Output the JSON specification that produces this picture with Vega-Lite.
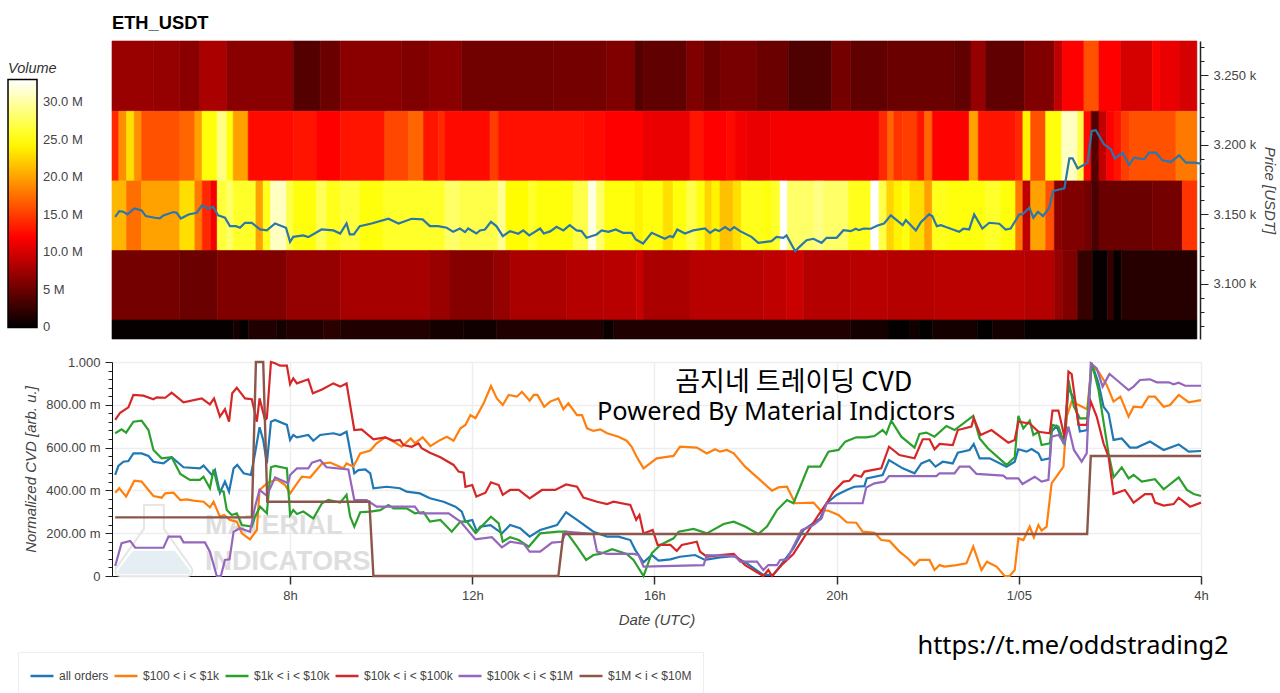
{
"$schema":"https://vega.github.io/schema/vega-lite/v6.json",
"background":"white",
"padding":{"left":8,"top":14,"right":4,"bottom":0},
"config":{"font":"Liberation Sans","view":{"stroke":null}},
"datasets":{
"heat":[
{"a":4.09,"b":5.0,"p":3224,"q":3274.5,"v":7.2},{"a":5.0,"b":5.58,"p":3224,"q":3274.5,"v":7},{"a":5.58,"b":6.02,"p":3224,"q":3274.5,"v":6.5},{"a":6.02,"b":6.61,"p":3224,"q":3274.5,"v":8},{"a":6.61,"b":8.07,"p":3224,"q":3274.5,"v":6.5},{"a":8.07,"b":8.66,"p":3224,"q":3274.5,"v":4},{"a":8.66,"b":9.1,"p":3224,"q":3274.5,"v":5},{"a":9.1,"b":10.45,"p":3224,"q":3274.5,"v":6.5},{"a":10.45,"b":11.07,"p":3224,"q":3274.5,"v":6},{"a":11.07,"b":11.77,"p":3224,"q":3274.5,"v":6.5},{"a":11.77,"b":13.78,"p":3224,"q":3274.5,"v":5.3},{"a":13.78,"b":14.95,"p":3224,"q":3274.5,"v":5.5},{"a":14.95,"b":15.57,"p":3224,"q":3274.5,"v":6},{"a":15.57,"b":15.75,"p":3224,"q":3274.5,"v":4},{"a":15.75,"b":16.71,"p":3224,"q":3274.5,"v":4.5},{"a":16.71,"b":17.07,"p":3224,"q":3274.5,"v":6},{"a":17.07,"b":17.44,"p":3224,"q":3274.5,"v":5},{"a":17.44,"b":18.24,"p":3224,"q":3274.5,"v":5.7},{"a":18.24,"b":18.94,"p":3224,"q":3274.5,"v":5},{"a":18.94,"b":19.89,"p":3224,"q":3274.5,"v":3.7},{"a":19.89,"b":20.31,"p":3224,"q":3274.5,"v":5.5},{"a":20.31,"b":21.12,"p":3224,"q":3274.5,"v":4.5},{"a":21.12,"b":22.58,"p":3224,"q":3274.5,"v":5},{"a":22.58,"b":22.95,"p":3224,"q":3274.5,"v":4.5},{"a":22.95,"b":23.27,"p":3224,"q":3274.5,"v":7},{"a":23.27,"b":24.12,"p":3224,"q":3274.5,"v":4.5},{"a":24.12,"b":24.78,"p":3224,"q":3274.5,"v":6},{"a":24.78,"b":24.96,"p":3224,"q":3274.5,"v":9},{"a":24.96,"b":25.43,"p":3224,"q":3274.5,"v":12},{"a":25.43,"b":25.76,"p":3224,"q":3274.5,"v":16},{"a":25.76,"b":26.24,"p":3224,"q":3274.5,"v":12},{"a":26.24,"b":26.93,"p":3224,"q":3274.5,"v":10},{"a":26.93,"b":27.08,"p":3224,"q":3274.5,"v":12},{"a":27.08,"b":27.52,"p":3224,"q":3274.5,"v":11},{"a":27.52,"b":27.91,"p":3224,"q":3274.5,"v":10},
{"a":4.09,"b":4.24,"p":3174,"q":3224,"v":14},{"a":4.24,"b":4.41,"p":3174,"q":3224,"v":19},{"a":4.41,"b":4.58,"p":3174,"q":3224,"v":23},{"a":4.58,"b":4.74,"p":3174,"q":3224,"v":19},{"a":4.74,"b":5.58,"p":3174,"q":3224,"v":16},{"a":5.58,"b":5.91,"p":3174,"q":3224,"v":17},{"a":5.91,"b":6.07,"p":3174,"q":3224,"v":20},{"a":6.07,"b":6.4,"p":3174,"q":3224,"v":25},{"a":6.4,"b":6.61,"p":3174,"q":3224,"v":29},{"a":6.61,"b":6.75,"p":3174,"q":3224,"v":25},{"a":6.75,"b":7.08,"p":3174,"q":3224,"v":20},{"a":7.08,"b":8.07,"p":3174,"q":3224,"v":12.5},{"a":8.07,"b":8.58,"p":3174,"q":3224,"v":13},{"a":8.58,"b":9.1,"p":3174,"q":3224,"v":12},{"a":9.1,"b":10.08,"p":3174,"q":3224,"v":13},{"a":10.08,"b":10.6,"p":3174,"q":3224,"v":15.5},{"a":10.6,"b":10.93,"p":3174,"q":3224,"v":17},{"a":10.93,"b":11.25,"p":3174,"q":3224,"v":13},{"a":11.25,"b":11.4,"p":3174,"q":3224,"v":14},{"a":11.4,"b":12.39,"p":3174,"q":3224,"v":12.5},{"a":12.39,"b":12.57,"p":3174,"q":3224,"v":15},{"a":12.57,"b":14.44,"p":3174,"q":3224,"v":12.8},{"a":14.44,"b":14.91,"p":3174,"q":3224,"v":12.5},{"a":14.91,"b":15.75,"p":3174,"q":3224,"v":12},{"a":15.75,"b":16.78,"p":3174,"q":3224,"v":11},{"a":16.78,"b":17.07,"p":3174,"q":3224,"v":13},{"a":17.07,"b":17.58,"p":3174,"q":3224,"v":12},{"a":17.58,"b":17.77,"p":3174,"q":3224,"v":12.5},{"a":17.77,"b":18.02,"p":3174,"q":3224,"v":11.5},{"a":18.02,"b":18.54,"p":3174,"q":3224,"v":11},{"a":18.54,"b":20.93,"p":3174,"q":3224,"v":11.5},{"a":20.93,"b":21.12,"p":3174,"q":3224,"v":14},{"a":21.12,"b":21.26,"p":3174,"q":3224,"v":17},{"a":21.26,"b":21.44,"p":3174,"q":3224,"v":14.5},{"a":21.44,"b":21.77,"p":3174,"q":3224,"v":15},{"a":21.77,"b":21.93,"p":3174,"q":3224,"v":13},{"a":21.93,"b":22.1,"p":3174,"q":3224,"v":17},{"a":22.1,"b":22.91,"p":3174,"q":3224,"v":12},{"a":22.91,"b":23.11,"p":3174,"q":3224,"v":20},{"a":23.11,"b":23.93,"p":3174,"q":3224,"v":13},{"a":23.93,"b":24.09,"p":3174,"q":3224,"v":14},{"a":24.09,"b":24.26,"p":3174,"q":3224,"v":24},{"a":24.26,"b":24.59,"p":3174,"q":3224,"v":16},{"a":24.59,"b":24.94,"p":3174,"q":3224,"v":25},{"a":24.94,"b":25.29,"p":3174,"q":3224,"v":31},{"a":25.29,"b":25.43,"p":3174,"q":3224,"v":27},{"a":25.43,"b":25.59,"p":3174,"q":3224,"v":12.5},{"a":25.59,"b":25.76,"p":3174,"q":3224,"v":4},{"a":25.76,"b":25.93,"p":3174,"q":3224,"v":9},{"a":25.93,"b":26.09,"p":3174,"q":3224,"v":12},{"a":26.09,"b":26.25,"p":3174,"q":3224,"v":13},{"a":26.25,"b":26.42,"p":3174,"q":3224,"v":15},{"a":26.42,"b":27.45,"p":3174,"q":3224,"v":16},{"a":27.45,"b":27.91,"p":3174,"q":3224,"v":18},
{"a":4.09,"b":4.41,"p":3124,"q":3174,"v":21},{"a":4.41,"b":4.74,"p":3124,"q":3174,"v":17.5},{"a":4.74,"b":5.58,"p":3124,"q":3174,"v":20},{"a":5.58,"b":5.91,"p":3124,"q":3174,"v":23},{"a":5.91,"b":6.07,"p":3124,"q":3174,"v":18},{"a":6.07,"b":6.26,"p":3124,"q":3174,"v":14},{"a":6.26,"b":6.4,"p":3124,"q":3174,"v":11.5},{"a":6.4,"b":6.61,"p":3124,"q":3174,"v":26.5},{"a":6.61,"b":6.75,"p":3124,"q":3174,"v":28},{"a":6.75,"b":7.25,"p":3124,"q":3174,"v":26},{"a":7.25,"b":7.41,"p":3124,"q":3174,"v":20},{"a":7.41,"b":7.57,"p":3124,"q":3174,"v":25.5},{"a":7.57,"b":7.92,"p":3124,"q":3174,"v":31},{"a":7.92,"b":8.07,"p":3124,"q":3174,"v":27},{"a":8.07,"b":8.58,"p":3124,"q":3174,"v":25},{"a":8.58,"b":8.8,"p":3124,"q":3174,"v":27.5},{"a":8.8,"b":9.1,"p":3124,"q":3174,"v":25.5},{"a":9.1,"b":9.53,"p":3124,"q":3174,"v":26.5},{"a":9.53,"b":10.05,"p":3124,"q":3174,"v":25},{"a":10.05,"b":11.4,"p":3124,"q":3174,"v":26},{"a":11.4,"b":11.73,"p":3124,"q":3174,"v":28},{"a":11.73,"b":12.57,"p":3124,"q":3174,"v":27},{"a":12.57,"b":12.74,"p":3124,"q":3174,"v":29.5},{"a":12.74,"b":13.23,"p":3124,"q":3174,"v":24.5},{"a":13.23,"b":13.41,"p":3124,"q":3174,"v":26},{"a":13.41,"b":14.22,"p":3124,"q":3174,"v":25},{"a":14.22,"b":14.55,"p":3124,"q":3174,"v":27},{"a":14.55,"b":14.73,"p":3124,"q":3174,"v":32},{"a":14.73,"b":14.91,"p":3124,"q":3174,"v":28},{"a":14.91,"b":15.57,"p":3124,"q":3174,"v":25},{"a":15.57,"b":15.75,"p":3124,"q":3174,"v":24},{"a":15.75,"b":16.19,"p":3124,"q":3174,"v":25},{"a":16.19,"b":16.41,"p":3124,"q":3174,"v":23},{"a":16.41,"b":16.71,"p":3124,"q":3174,"v":25},{"a":16.71,"b":16.93,"p":3124,"q":3174,"v":27},{"a":16.93,"b":17.11,"p":3124,"q":3174,"v":25},{"a":17.11,"b":17.26,"p":3124,"q":3174,"v":22.5},{"a":17.26,"b":17.44,"p":3124,"q":3174,"v":24},{"a":17.44,"b":17.73,"p":3124,"q":3174,"v":21.5},{"a":17.73,"b":17.91,"p":3124,"q":3174,"v":23},{"a":17.91,"b":18.39,"p":3124,"q":3174,"v":25.5},{"a":18.39,"b":18.57,"p":3124,"q":3174,"v":25},{"a":18.57,"b":18.76,"p":3124,"q":3174,"v":26},{"a":18.76,"b":18.92,"p":3124,"q":3174,"v":33},{"a":18.92,"b":19.52,"p":3124,"q":3174,"v":28},{"a":19.52,"b":19.71,"p":3124,"q":3174,"v":29},{"a":19.71,"b":20.26,"p":3124,"q":3174,"v":28},{"a":20.26,"b":20.75,"p":3124,"q":3174,"v":25.5},{"a":20.75,"b":20.93,"p":3124,"q":3174,"v":33},{"a":20.93,"b":21.1,"p":3124,"q":3174,"v":27},{"a":21.1,"b":21.26,"p":3124,"q":3174,"v":22.5},{"a":21.26,"b":21.44,"p":3124,"q":3174,"v":24},{"a":21.44,"b":21.61,"p":3124,"q":3174,"v":25},{"a":21.61,"b":21.93,"p":3124,"q":3174,"v":23},{"a":21.93,"b":22.1,"p":3124,"q":3174,"v":20},{"a":22.1,"b":22.43,"p":3124,"q":3174,"v":25.5},{"a":22.43,"b":23.27,"p":3124,"q":3174,"v":25},{"a":23.27,"b":23.6,"p":3124,"q":3174,"v":26},{"a":23.6,"b":23.93,"p":3124,"q":3174,"v":25},{"a":23.93,"b":24.09,"p":3124,"q":3174,"v":18},{"a":24.09,"b":24.26,"p":3124,"q":3174,"v":9},{"a":24.26,"b":24.59,"p":3124,"q":3174,"v":20},{"a":24.59,"b":24.78,"p":3124,"q":3174,"v":16},{"a":24.78,"b":24.94,"p":3124,"q":3174,"v":6.5},{"a":24.94,"b":25.43,"p":3124,"q":3174,"v":6},{"a":25.43,"b":25.59,"p":3124,"q":3174,"v":5.5},{"a":25.59,"b":25.76,"p":3124,"q":3174,"v":3.5},{"a":25.76,"b":26.93,"p":3124,"q":3174,"v":5},{"a":26.93,"b":27.59,"p":3124,"q":3174,"v":5.5},{"a":27.59,"b":27.91,"p":3124,"q":3174,"v":14.5},
{"a":4.09,"b":5.58,"p":3074,"q":3124,"v":5.5},{"a":5.58,"b":6.4,"p":3074,"q":3124,"v":5},{"a":6.4,"b":7.92,"p":3074,"q":3124,"v":6},{"a":7.92,"b":9.1,"p":3074,"q":3124,"v":7},{"a":9.1,"b":11.07,"p":3074,"q":3124,"v":7.8},{"a":11.07,"b":11.51,"p":3074,"q":3124,"v":7.2},{"a":11.51,"b":12.46,"p":3074,"q":3124,"v":6.3},{"a":12.46,"b":12.83,"p":3074,"q":3124,"v":7},{"a":12.83,"b":14.07,"p":3074,"q":3124,"v":8},{"a":14.07,"b":14.88,"p":3074,"q":3124,"v":8.5},{"a":14.88,"b":15.61,"p":3074,"q":3124,"v":8.7},{"a":15.61,"b":15.75,"p":3074,"q":3124,"v":9.5},{"a":15.75,"b":16.78,"p":3074,"q":3124,"v":8},{"a":16.78,"b":18.39,"p":3074,"q":3124,"v":8.6},{"a":18.39,"b":18.9,"p":3074,"q":3124,"v":9},{"a":18.9,"b":19.27,"p":3074,"q":3124,"v":9.5},{"a":19.27,"b":20.31,"p":3074,"q":3124,"v":8.5},{"a":20.31,"b":21.12,"p":3074,"q":3124,"v":8.7},{"a":21.12,"b":22.14,"p":3074,"q":3124,"v":8.5},{"a":22.14,"b":24.12,"p":3074,"q":3124,"v":8.8},{"a":24.12,"b":24.78,"p":3074,"q":3124,"v":8.5},{"a":24.78,"b":24.96,"p":3074,"q":3124,"v":7},{"a":24.96,"b":25.29,"p":3074,"q":3124,"v":6},{"a":25.29,"b":25.62,"p":3074,"q":3124,"v":2.5},{"a":25.62,"b":25.95,"p":3074,"q":3124,"v":0.3},{"a":25.95,"b":26.09,"p":3074,"q":3124,"v":2.5},{"a":26.09,"b":26.25,"p":3074,"q":3124,"v":0.3},{"a":26.25,"b":27.91,"p":3074,"q":3124,"v":1.8},
{"a":4.09,"b":6.75,"p":3060.4,"q":3074,"v":0.3},{"a":6.75,"b":6.9,"p":3060.4,"q":3074,"v":1},{"a":6.9,"b":7.08,"p":3060.4,"q":3074,"v":0.2},{"a":7.08,"b":7.7,"p":3060.4,"q":3074,"v":1.5},{"a":7.7,"b":7.92,"p":3060.4,"q":3074,"v":1},{"a":7.92,"b":8.73,"p":3060.4,"q":3074,"v":1.5},{"a":8.73,"b":9.1,"p":3060.4,"q":3074,"v":2},{"a":9.1,"b":11.07,"p":3060.4,"q":3074,"v":1.5},{"a":11.07,"b":11.8,"p":3060.4,"q":3074,"v":1},{"a":11.8,"b":12.53,"p":3060.4,"q":3074,"v":0.8},{"a":12.53,"b":14.88,"p":3060.4,"q":3074,"v":1.5},{"a":14.88,"b":15.1,"p":3060.4,"q":3074,"v":0.5},{"a":15.1,"b":20.31,"p":3060.4,"q":3074,"v":1.5},{"a":20.31,"b":21.15,"p":3060.4,"q":3074,"v":1},{"a":21.15,"b":21.59,"p":3060.4,"q":3074,"v":0.2},{"a":21.59,"b":21.81,"p":3060.4,"q":3074,"v":0.8},{"a":21.81,"b":22.1,"p":3060.4,"q":3074,"v":0.2},{"a":22.1,"b":23.09,"p":3060.4,"q":3074,"v":1},{"a":23.09,"b":23.42,"p":3060.4,"q":3074,"v":0.2},{"a":23.42,"b":24.12,"p":3060.4,"q":3074,"v":1},{"a":24.12,"b":27.91,"p":3060.4,"q":3074,"v":0.3}
],
"price":[
{"h":4.16,"p":3148.2},{"h":4.25,"p":3152.3},{"h":4.34,"p":3151.8},{"h":4.43,"p":3149.9},{"h":4.58,"p":3154.2},{"h":4.74,"p":3152.8},{"h":4.83,"p":3148.7},{"h":5.03,"p":3147.5},{"h":5.14,"p":3147},{"h":5.22,"p":3149.2},{"h":5.44,"p":3151.6},{"h":5.51,"p":3151.1},{"h":5.6,"p":3147},{"h":5.77,"p":3149.9},{"h":5.95,"p":3151.1},{"h":6.07,"p":3156.6},{"h":6.2,"p":3154},{"h":6.31,"p":3155.4},{"h":6.42,"p":3149.2},{"h":6.57,"p":3147.5},{"h":6.68,"p":3141.5},{"h":6.81,"p":3141.5},{"h":6.9,"p":3140.3},{"h":7.01,"p":3143.9},{"h":7.16,"p":3143.9},{"h":7.34,"p":3139.1},{"h":7.49,"p":3138.4},{"h":7.67,"p":3143.4},{"h":7.91,"p":3140.3},{"h":8.0,"p":3130.2},{"h":8.07,"p":3133.8},{"h":8.29,"p":3134.8},{"h":8.4,"p":3133.6},{"h":8.69,"p":3139.1},{"h":8.95,"p":3138.4},{"h":9.1,"p":3136.2},{"h":9.24,"p":3143.4},{"h":9.31,"p":3135.5},{"h":9.4,"p":3135.5},{"h":9.53,"p":3141.5},{"h":9.79,"p":3143.4},{"h":10.16,"p":3146.8},{"h":10.38,"p":3143.4},{"h":10.67,"p":3146.8},{"h":10.91,"p":3146.3},{"h":11.07,"p":3141.5},{"h":11.25,"p":3141.5},{"h":11.44,"p":3140.3},{"h":11.58,"p":3137.4},{"h":11.73,"p":3139.8},{"h":11.84,"p":3137.2},{"h":11.91,"p":3139.8},{"h":12.09,"p":3136.2},{"h":12.17,"p":3138.4},{"h":12.28,"p":3139.1},{"h":12.41,"p":3144.6},{"h":12.53,"p":3141.5},{"h":12.67,"p":3134.3},{"h":12.83,"p":3137.9},{"h":13.01,"p":3136},{"h":13.12,"p":3138.4},{"h":13.25,"p":3134.8},{"h":13.49,"p":3139.8},{"h":13.57,"p":3136.2},{"h":13.71,"p":3137.7},{"h":13.85,"p":3141},{"h":14.0,"p":3138.4},{"h":14.14,"p":3142.2},{"h":14.29,"p":3138.4},{"h":14.4,"p":3137.9},{"h":14.51,"p":3133.1},{"h":14.73,"p":3135.5},{"h":14.84,"p":3138.4},{"h":14.99,"p":3137.4},{"h":15.15,"p":3139.1},{"h":15.31,"p":3136.7},{"h":15.5,"p":3136.7},{"h":15.59,"p":3131.9},{"h":15.75,"p":3129},{"h":15.94,"p":3136.7},{"h":16.23,"p":3132.4},{"h":16.34,"p":3134.3},{"h":16.41,"p":3133.6},{"h":16.5,"p":3139.1},{"h":16.67,"p":3136.2},{"h":16.85,"p":3138.4},{"h":17.11,"p":3139.8},{"h":17.22,"p":3136.7},{"h":17.33,"p":3139.1},{"h":17.42,"p":3137.9},{"h":17.55,"p":3140.8},{"h":17.66,"p":3138.4},{"h":17.75,"p":3140.8},{"h":17.88,"p":3137.9},{"h":18.13,"p":3133.8},{"h":18.28,"p":3129.5},{"h":18.57,"p":3130.7},{"h":18.68,"p":3133.8},{"h":18.83,"p":3133.1},{"h":18.9,"p":3134.8},{"h":19.09,"p":3123.5},{"h":19.2,"p":3127.1},{"h":19.34,"p":3131.4},{"h":19.49,"p":3132.4},{"h":19.67,"p":3129.5},{"h":19.78,"p":3133.1},{"h":20.0,"p":3133.1},{"h":20.15,"p":3138.6},{"h":20.31,"p":3137.9},{"h":20.42,"p":3139.6},{"h":20.49,"p":3138.6},{"h":20.6,"p":3139.8},{"h":20.75,"p":3139.6},{"h":20.9,"p":3142},{"h":21.04,"p":3143.4},{"h":21.19,"p":3149.2},{"h":21.45,"p":3142.2},{"h":21.52,"p":3145.8},{"h":21.74,"p":3138.4},{"h":21.85,"p":3144.4},{"h":22.03,"p":3149.9},{"h":22.1,"p":3148.7},{"h":22.2,"p":3141.5},{"h":22.29,"p":3142.2},{"h":22.4,"p":3140.8},{"h":22.69,"p":3137.4},{"h":22.78,"p":3139.6},{"h":22.91,"p":3139.1},{"h":23.02,"p":3149.9},{"h":23.2,"p":3139.8},{"h":23.35,"p":3143.9},{"h":23.57,"p":3143.2},{"h":23.71,"p":3139.1},{"h":23.82,"p":3139.8},{"h":24.01,"p":3149.9},{"h":24.08,"p":3149.9},{"h":24.23,"p":3154.7},{"h":24.32,"p":3147.5},{"h":24.42,"p":3151.8},{"h":24.53,"p":3148.7},{"h":24.67,"p":3154.7},{"h":24.75,"p":3166.7},{"h":25.0,"p":3168.6},{"h":25.11,"p":3190.2},{"h":25.18,"p":3190.2},{"h":25.29,"p":3183},{"h":25.51,"p":3187.1},{"h":25.6,"p":3209.9},{"h":25.69,"p":3210.4},{"h":25.87,"p":3200.3},{"h":26.02,"p":3196.7},{"h":26.11,"p":3190},{"h":26.28,"p":3194.3},{"h":26.42,"p":3185.4},{"h":26.53,"p":3190.7},{"h":26.75,"p":3189.5},{"h":26.86,"p":3194.3},{"h":27.01,"p":3194.3},{"h":27.15,"p":3188.8},{"h":27.34,"p":3187.6},{"h":27.52,"p":3192.4},{"h":27.67,"p":3187.1},{"h":27.85,"p":3187.1},{"h":28.0,"p":3186.4}
],
"allOrders":[
{"h":4.16,"v":0.472},{"h":4.23,"v":0.514},{"h":4.34,"v":0.534},{"h":4.45,"v":0.537},{"h":4.56,"v":0.573},{"h":4.74,"v":0.573},{"h":4.89,"v":0.561},{"h":5.0,"v":0.534},{"h":5.22,"v":0.526},{"h":5.4,"v":0.555},{"h":5.66,"v":0.508},{"h":6.02,"v":0.503},{"h":6.1,"v":0.516},{"h":6.28,"v":0.472},{"h":6.35,"v":0.495},{"h":6.46,"v":0.389},{"h":6.57,"v":0.441},{"h":6.66,"v":0.394},{"h":6.76,"v":0.503},{"h":6.84,"v":0.519},{"h":6.98,"v":0.48},{"h":7.14,"v":0.472},{"h":7.23,"v":0.573},{"h":7.33,"v":0.695},{"h":7.41,"v":0.636},{"h":7.49,"v":0.526},{"h":7.58,"v":0.721},{"h":7.67,"v":0.729},{"h":7.93,"v":0.706},{"h":8.0,"v":0.636},{"h":8.07,"v":0.659},{"h":8.15,"v":0.648},{"h":8.4,"v":0.659},{"h":8.51,"v":0.632},{"h":8.66,"v":0.659},{"h":8.95,"v":0.667},{"h":9.1,"v":0.659},{"h":9.24,"v":0.674},{"h":9.41,"v":0.48},{"h":9.5,"v":0.495},{"h":9.65,"v":0.498},{"h":9.76,"v":0.48},{"h":9.83,"v":0.41},{"h":10.12,"v":0.417},{"h":10.41,"v":0.41},{"h":10.56,"v":0.394},{"h":10.85,"v":0.386},{"h":11.07,"v":0.363},{"h":11.37,"v":0.347},{"h":11.63,"v":0.324},{"h":11.77,"v":0.301},{"h":11.85,"v":0.254},{"h":12.0,"v":0.262},{"h":12.1,"v":0.207},{"h":12.18,"v":0.231},{"h":12.4,"v":0.238},{"h":12.65,"v":0.199},{"h":12.83,"v":0.238},{"h":13.05,"v":0.223},{"h":13.26,"v":0.184},{"h":13.49,"v":0.215},{"h":13.86,"v":0.238},{"h":14.06,"v":0.298},{"h":14.3,"v":0.262},{"h":14.66,"v":0.207},{"h":14.96,"v":0.184},{"h":15.21,"v":0.184},{"h":15.47,"v":0.168},{"h":15.58,"v":0.121},{"h":15.76,"v":0.064},{"h":15.94,"v":0.098},{"h":16.09,"v":0.072},{"h":16.35,"v":0.078},{"h":16.56,"v":0.09},{"h":16.89,"v":0.098},{"h":17.11,"v":0.075},{"h":17.44,"v":0.087},{"h":17.74,"v":0.093},{"h":18.03,"v":0.059},{"h":18.39,"v":0.005},{"h":18.61,"v":0.005},{"h":18.83,"v":0.067},{"h":19.05,"v":0.129},{"h":19.27,"v":0.215},{"h":19.64,"v":0.269},{"h":19.78,"v":0.34},{"h":20.0,"v":0.379},{"h":20.22,"v":0.402},{"h":20.39,"v":0.417},{"h":20.61,"v":0.42},{"h":20.66,"v":0.456},{"h":21.01,"v":0.472},{"h":21.15,"v":0.542},{"h":21.45,"v":0.503},{"h":21.71,"v":0.48},{"h":21.86,"v":0.526},{"h":22.04,"v":0.542},{"h":22.17,"v":0.511},{"h":22.33,"v":0.534},{"h":22.55,"v":0.526},{"h":22.66,"v":0.576},{"h":22.92,"v":0.589},{"h":23.01,"v":0.617},{"h":23.14,"v":0.55},{"h":23.36,"v":0.55},{"h":23.73,"v":0.511},{"h":23.91,"v":0.534},{"h":23.99,"v":0.592},{"h":24.17,"v":0.581},{"h":24.28,"v":0.593},{"h":24.43,"v":0.573},{"h":24.5,"v":0.542},{"h":24.68,"v":0.55},{"h":24.72,"v":0.675},{"h":24.83,"v":0.701},{"h":24.98,"v":0.62},{"h":25.09,"v":0.877},{"h":25.23,"v":0.822},{"h":25.34,"v":0.675},{"h":25.5,"v":0.682},{"h":25.6,"v":0.994},{"h":25.75,"v":0.9},{"h":25.86,"v":0.791},{"h":25.97,"v":0.76},{"h":26.08,"v":0.636},{"h":26.26,"v":0.643},{"h":26.44,"v":0.6},{"h":26.59,"v":0.6},{"h":26.88,"v":0.628},{"h":27.18,"v":0.589},{"h":27.51,"v":0.615},{"h":27.73,"v":0.581},{"h":28.0,"v":0.584}
],
"o100":[
{"h":4.16,"v":0.389},{"h":4.25,"v":0.41},{"h":4.4,"v":0.371},{"h":4.58,"v":0.445},{"h":4.74,"v":0.441},{"h":4.89,"v":0.402},{"h":5.0,"v":0.374},{"h":5.18,"v":0.366},{"h":5.26,"v":0.386},{"h":5.44,"v":0.389},{"h":5.59,"v":0.355},{"h":5.73,"v":0.358},{"h":5.88,"v":0.352},{"h":6.1,"v":0.347},{"h":6.24,"v":0.321},{"h":6.32,"v":0.347},{"h":6.46,"v":0.277},{"h":6.55,"v":0.285},{"h":6.68,"v":0.262},{"h":6.83,"v":0.254},{"h":6.94,"v":0.199},{"h":7.12,"v":0.171},{"h":7.27,"v":0.215},{"h":7.33,"v":0.402},{"h":7.49,"v":0.433},{"h":7.71,"v":0.452},{"h":7.89,"v":0.425},{"h":8.0,"v":0.386},{"h":8.18,"v":0.441},{"h":8.26,"v":0.464},{"h":8.44,"v":0.46},{"h":8.7,"v":0.526},{"h":8.88,"v":0.53},{"h":9.17,"v":0.503},{"h":9.24,"v":0.526},{"h":9.39,"v":0.511},{"h":9.54,"v":0.573},{"h":9.76,"v":0.586},{"h":9.9,"v":0.62},{"h":10.09,"v":0.648},{"h":10.27,"v":0.628},{"h":10.45,"v":0.604},{"h":10.65,"v":0.643},{"h":10.74,"v":0.62},{"h":10.91,"v":0.648},{"h":11.08,"v":0.607},{"h":11.3,"v":0.636},{"h":11.44,"v":0.651},{"h":11.59,"v":0.632},{"h":11.74,"v":0.69},{"h":11.85,"v":0.706},{"h":11.96,"v":0.752},{"h":12.07,"v":0.737},{"h":12.25,"v":0.807},{"h":12.41,"v":0.888},{"h":12.54,"v":0.83},{"h":12.67,"v":0.799},{"h":12.8,"v":0.846},{"h":12.98,"v":0.838},{"h":13.09,"v":0.861},{"h":13.26,"v":0.819},{"h":13.35,"v":0.846},{"h":13.43,"v":0.846},{"h":13.58,"v":0.791},{"h":13.71,"v":0.815},{"h":13.89,"v":0.83},{"h":14.0,"v":0.779},{"h":14.11,"v":0.807},{"h":14.3,"v":0.752},{"h":14.41,"v":0.752},{"h":14.52,"v":0.69},{"h":14.66,"v":0.678},{"h":14.81,"v":0.685},{"h":14.96,"v":0.667},{"h":15.21,"v":0.651},{"h":15.39,"v":0.632},{"h":15.5,"v":0.604},{"h":15.6,"v":0.561},{"h":15.76,"v":0.503},{"h":16.05,"v":0.55},{"h":16.31,"v":0.558},{"h":16.42,"v":0.561},{"h":16.56,"v":0.604},{"h":16.93,"v":0.6},{"h":17.15,"v":0.573},{"h":17.33,"v":0.592},{"h":17.44,"v":0.581},{"h":17.59,"v":0.589},{"h":17.74,"v":0.573},{"h":17.99,"v":0.511},{"h":18.28,"v":0.456},{"h":18.58,"v":0.399},{"h":18.72,"v":0.414},{"h":18.91,"v":0.417},{"h":19.09,"v":0.34},{"h":19.49,"v":0.343},{"h":19.64,"v":0.308},{"h":19.82,"v":0.305},{"h":20.04,"v":0.285},{"h":20.22,"v":0.251},{"h":20.43,"v":0.249},{"h":20.57,"v":0.207},{"h":20.83,"v":0.202},{"h":20.98,"v":0.168},{"h":21.16,"v":0.164},{"h":21.38,"v":0.114},{"h":21.56,"v":0.083},{"h":21.71,"v":0.051},{"h":21.82,"v":0.075},{"h":22.04,"v":0.075},{"h":22.15,"v":0.028},{"h":22.26,"v":0.051},{"h":22.37,"v":0.044},{"h":22.63,"v":0.051},{"h":22.85,"v":0.059},{"h":23.0,"v":0.137},{"h":23.18,"v":0.028},{"h":23.3,"v":0.067},{"h":23.51,"v":0.044},{"h":23.69,"v":0},{"h":23.8,"v":0},{"h":23.91,"v":0.028},{"h":23.99,"v":0.176},{"h":24.1,"v":0.168},{"h":24.24,"v":0.231},{"h":24.33,"v":0.181},{"h":24.43,"v":0.238},{"h":24.5,"v":0.212},{"h":24.61,"v":0.231},{"h":24.72,"v":0.433},{"h":24.98,"v":0.511},{"h":25.05,"v":0.745},{"h":25.16,"v":0.815},{"h":25.5,"v":0.779},{"h":25.6,"v":0.986},{"h":25.75,"v":0.955},{"h":25.93,"v":0.893},{"h":26.08,"v":0.815},{"h":26.23,"v":0.838},{"h":26.41,"v":0.745},{"h":26.52,"v":0.791},{"h":26.7,"v":0.788},{"h":26.85,"v":0.838},{"h":26.99,"v":0.838},{"h":27.18,"v":0.791},{"h":27.32,"v":0.799},{"h":27.51,"v":0.846},{"h":27.73,"v":0.812},{"h":28.0,"v":0.822}
],
"o1k":[
{"h":4.16,"v":0.667},{"h":4.3,"v":0.685},{"h":4.4,"v":0.67},{"h":4.56,"v":0.721},{"h":4.74,"v":0.726},{"h":4.89,"v":0.682},{"h":5.0,"v":0.589},{"h":5.18,"v":0.55},{"h":5.4,"v":0.555},{"h":5.59,"v":0.477},{"h":5.8,"v":0.449},{"h":6.02,"v":0.449},{"h":6.1,"v":0.464},{"h":6.24,"v":0.41},{"h":6.32,"v":0.498},{"h":6.43,"v":0.402},{"h":6.54,"v":0.394},{"h":6.61,"v":0.308},{"h":6.72,"v":0.285},{"h":6.83,"v":0.293},{"h":6.94,"v":0.238},{"h":7.16,"v":0.231},{"h":7.23,"v":0.277},{"h":7.34,"v":0.324},{"h":7.49,"v":0.293},{"h":7.58,"v":0.508},{"h":7.67,"v":0.514},{"h":7.93,"v":0.503},{"h":8.0,"v":0.285},{"h":8.07,"v":0.308},{"h":8.15,"v":0.29},{"h":8.29,"v":0.301},{"h":8.51,"v":0.269},{"h":8.7,"v":0.34},{"h":8.84,"v":0.355},{"h":9.1,"v":0.343},{"h":9.24,"v":0.379},{"h":9.32,"v":0.277},{"h":9.41,"v":0.231},{"h":9.54,"v":0.298},{"h":9.76,"v":0.301},{"h":9.98,"v":0.308},{"h":10.16,"v":0.332},{"h":10.27,"v":0.316},{"h":10.56,"v":0.316},{"h":10.74,"v":0.293},{"h":10.93,"v":0.298},{"h":11.07,"v":0.254},{"h":11.3,"v":0.262},{"h":11.55,"v":0.207},{"h":11.74,"v":0.254},{"h":11.88,"v":0.254},{"h":12.07,"v":0.202},{"h":12.41,"v":0.277},{"h":12.58,"v":0.246},{"h":12.67,"v":0.16},{"h":12.83,"v":0.181},{"h":13.02,"v":0.168},{"h":13.24,"v":0.137},{"h":13.49,"v":0.199},{"h":13.89,"v":0.207},{"h":14.06,"v":0.207},{"h":14.3,"v":0.137},{"h":14.5,"v":0.075},{"h":14.66,"v":0.098},{"h":14.81,"v":0.103},{"h":15.07,"v":0.125},{"h":15.39,"v":0.103},{"h":15.54,"v":0.075},{"h":15.76,"v":0},{"h":15.94,"v":0.106},{"h":16.13,"v":0.145},{"h":16.42,"v":0.176},{"h":16.53,"v":0.207},{"h":16.86,"v":0.22},{"h":17.15,"v":0.199},{"h":17.52,"v":0.243},{"h":17.74,"v":0.254},{"h":17.99,"v":0.231},{"h":18.28,"v":0.196},{"h":18.47,"v":0.231},{"h":18.69,"v":0.308},{"h":18.91,"v":0.355},{"h":19.05,"v":0.34},{"h":19.2,"v":0.417},{"h":19.38,"v":0.511},{"h":19.64,"v":0.511},{"h":19.82,"v":0.581},{"h":20.04,"v":0.589},{"h":20.19,"v":0.628},{"h":20.43,"v":0.648},{"h":20.65,"v":0.648},{"h":20.83,"v":0.654},{"h":21.01,"v":0.682},{"h":21.09,"v":0.664},{"h":21.2,"v":0.726},{"h":21.42,"v":0.651},{"h":21.71,"v":0.6},{"h":21.82,"v":0.664},{"h":21.97,"v":0.67},{"h":22.15,"v":0.651},{"h":22.41,"v":0.701},{"h":22.59,"v":0.682},{"h":23.0,"v":0.748},{"h":23.14,"v":0.643},{"h":23.32,"v":0.597},{"h":23.73,"v":0.519},{"h":23.91,"v":0.555},{"h":23.99,"v":0.748},{"h":24.1,"v":0.69},{"h":24.24,"v":0.726},{"h":24.32,"v":0.659},{"h":24.43,"v":0.674},{"h":24.5,"v":0.612},{"h":24.68,"v":0.62},{"h":24.74,"v":0.706},{"h":24.87,"v":0.698},{"h":25.01,"v":0.612},{"h":25.09,"v":0.916},{"h":25.21,"v":0.791},{"h":25.34,"v":0.737},{"h":25.5,"v":0.737},{"h":25.6,"v":0.997},{"h":25.75,"v":0.869},{"h":25.97,"v":0.573},{"h":26.08,"v":0.461},{"h":26.26,"v":0.508},{"h":26.41,"v":0.456},{"h":26.52,"v":0.472},{"h":26.7,"v":0.441},{"h":26.99,"v":0.452},{"h":27.18,"v":0.405},{"h":27.51,"v":0.461},{"h":27.69,"v":0.402},{"h":27.84,"v":0.383},{"h":28.0,"v":0.374}
],
"o10k":[
{"h":4.16,"v":0.729},{"h":4.27,"v":0.763},{"h":4.45,"v":0.788},{"h":4.56,"v":0.846},{"h":4.78,"v":0.843},{"h":5.0,"v":0.826},{"h":5.07,"v":0.835},{"h":5.26,"v":0.833},{"h":5.4,"v":0.857},{"h":5.66,"v":0.812},{"h":6.06,"v":0.83},{"h":6.24,"v":0.802},{"h":6.33,"v":0.83},{"h":6.46,"v":0.745},{"h":6.57,"v":0.779},{"h":6.66,"v":0.721},{"h":6.73,"v":0.854},{"h":6.83,"v":0.88},{"h":7.01,"v":0.83},{"h":7.16,"v":0.826},{"h":7.27,"v":0.721},{"h":7.33,"v":0.83},{"h":7.45,"v":0.729},{"h":7.49,"v":0.737},{"h":7.58,"v":1},{"h":7.67,"v":0.994},{"h":7.78,"v":0.983},{"h":7.93,"v":0.983},{"h":8.0,"v":0.896},{"h":8.07,"v":0.924},{"h":8.15,"v":0.9},{"h":8.4,"v":0.919},{"h":8.5,"v":0.854},{"h":8.7,"v":0.872},{"h":8.95,"v":0.9},{"h":9.1,"v":0.885},{"h":9.24,"v":0.9},{"h":9.41,"v":0.682},{"h":9.57,"v":0.685},{"h":9.83,"v":0.639},{"h":10.09,"v":0.648},{"h":10.27,"v":0.632},{"h":10.41,"v":0.636},{"h":10.49,"v":0.612},{"h":10.67,"v":0.604},{"h":10.82,"v":0.62},{"h":10.89,"v":0.597},{"h":11.07,"v":0.576},{"h":11.3,"v":0.555},{"h":11.59,"v":0.519},{"h":11.7,"v":0.488},{"h":11.81,"v":0.483},{"h":11.85,"v":0.417},{"h":12.0,"v":0.425},{"h":12.09,"v":0.371},{"h":12.29,"v":0.389},{"h":12.41,"v":0.438},{"h":12.58,"v":0.425},{"h":12.67,"v":0.379},{"h":12.83,"v":0.402},{"h":13.02,"v":0.402},{"h":13.26,"v":0.363},{"h":13.53,"v":0.402},{"h":13.82,"v":0.402},{"h":14.06,"v":0.428},{"h":14.3,"v":0.417},{"h":14.44,"v":0.366},{"h":14.74,"v":0.347},{"h":14.96,"v":0.336},{"h":15.1,"v":0.347},{"h":15.47,"v":0.332},{"h":15.6,"v":0.262},{"h":15.67,"v":0.285},{"h":15.76,"v":0.199},{"h":15.96,"v":0.215},{"h":16.07,"v":0.145},{"h":16.35,"v":0.145},{"h":16.49,"v":0.117},{"h":16.6,"v":0.145},{"h":16.93,"v":0.16},{"h":17.0,"v":0.114},{"h":17.15,"v":0.09},{"h":17.44,"v":0.098},{"h":17.74,"v":0.103},{"h":17.99,"v":0.051},{"h":18.39,"v":0},{"h":18.5,"v":0.028},{"h":18.58,"v":0},{"h":18.83,"v":0.059},{"h":19.05,"v":0.103},{"h":19.27,"v":0.176},{"h":19.6,"v":0.285},{"h":19.78,"v":0.34},{"h":19.93,"v":0.394},{"h":20.15,"v":0.441},{"h":20.28,"v":0.445},{"h":20.39,"v":0.472},{"h":20.54,"v":0.464},{"h":20.61,"v":0.488},{"h":20.98,"v":0.503},{"h":21.15,"v":0.604},{"h":21.38,"v":0.565},{"h":21.71,"v":0.55},{"h":21.89,"v":0.639},{"h":22.04,"v":0.639},{"h":22.15,"v":0.592},{"h":22.26,"v":0.617},{"h":22.55,"v":0.612},{"h":22.66,"v":0.682},{"h":22.96,"v":0.698},{"h":23.01,"v":0.737},{"h":23.16,"v":0.659},{"h":23.4,"v":0.682},{"h":23.77,"v":0.623},{"h":23.91,"v":0.636},{"h":23.99,"v":0.721},{"h":24.24,"v":0.713},{"h":24.43,"v":0.674},{"h":24.68,"v":0.667},{"h":24.74,"v":0.773},{"h":24.87,"v":0.773},{"h":25.01,"v":0.643},{"h":25.09,"v":0.955},{"h":25.16,"v":0.944},{"h":25.31,"v":0.706},{"h":25.49,"v":0.706},{"h":25.58,"v":0.815},{"h":25.71,"v":0.745},{"h":25.86,"v":0.62},{"h":25.97,"v":0.558},{"h":26.08,"v":0.383},{"h":26.33,"v":0.402},{"h":26.52,"v":0.343},{"h":26.77,"v":0.383},{"h":26.92,"v":0.383},{"h":26.99,"v":0.343},{"h":27.18,"v":0.329},{"h":27.4,"v":0.336},{"h":27.51,"v":0.366},{"h":27.76,"v":0.324},{"h":28.0,"v":0.343}
],
"o100k":[
{"h":4.16,"v":0.047},{"h":4.3,"v":0.153},{"h":4.49,"v":0.164},{"h":4.6,"v":0.132},{"h":5.22,"v":0.132},{"h":5.33,"v":0.184},{"h":5.59,"v":0.184},{"h":5.66,"v":0.157},{"h":6.13,"v":0.157},{"h":6.24,"v":0.114},{"h":6.39,"v":0},{"h":6.48,"v":0},{"h":6.57,"v":0.075},{"h":6.67,"v":0.078},{"h":6.76,"v":0.207},{"h":6.9,"v":0.223},{"h":7.12,"v":0.207},{"h":7.23,"v":0.324},{"h":7.33,"v":0.402},{"h":7.49,"v":0.375},{"h":7.67,"v":0.461},{"h":7.96,"v":0.433},{"h":8.0,"v":0.472},{"h":8.15,"v":0.503},{"h":8.4,"v":0.503},{"h":8.48,"v":0.53},{"h":8.66,"v":0.542},{"h":8.8,"v":0.508},{"h":9.28,"v":0.498},{"h":9.41,"v":0.355},{"h":9.68,"v":0.355},{"h":9.9,"v":0.324},{"h":10.74,"v":0.324},{"h":10.85,"v":0.293},{"h":11.48,"v":0.293},{"h":11.74,"v":0.254},{"h":12.07,"v":0.171},{"h":12.43,"v":0.181},{"h":12.65,"v":0.134},{"h":12.83,"v":0.16},{"h":13.13,"v":0.15},{"h":13.26,"v":0.114},{"h":13.49,"v":0.114},{"h":13.75,"v":0.156},{"h":13.97,"v":0.16},{"h":14.06,"v":0.207},{"h":14.66,"v":0.196},{"h":14.74,"v":0.114},{"h":14.96,"v":0.103},{"h":15.54,"v":0.103},{"h":15.65,"v":0.098},{"h":15.76,"v":0.044},{"h":17.08,"v":0.051},{"h":17.15,"v":0.098},{"h":17.77,"v":0.093},{"h":17.88,"v":0.067},{"h":18.25,"v":0.067},{"h":18.39,"v":0.028},{"h":18.5,"v":0.051},{"h":18.69,"v":0.051},{"h":18.76,"v":0.075},{"h":18.91,"v":0.078},{"h":19.23,"v":0.215},{"h":19.49,"v":0.238},{"h":19.67,"v":0.269},{"h":19.78,"v":0.34},{"h":20.57,"v":0.34},{"h":20.65,"v":0.414},{"h":20.83,"v":0.433},{"h":21.05,"v":0.441},{"h":21.15,"v":0.467},{"h":22.19,"v":0.467},{"h":22.26,"v":0.48},{"h":22.59,"v":0.48},{"h":22.7,"v":0.511},{"h":22.92,"v":0.511},{"h":23.07,"v":0.477},{"h":23.66,"v":0.469},{"h":23.73,"v":0.456},{"h":23.99,"v":0.456},{"h":24.08,"v":0.43},{"h":24.35,"v":0.464},{"h":24.5,"v":0.441},{"h":24.65,"v":0.449},{"h":24.72,"v":0.651},{"h":24.87,"v":0.659},{"h":25.0,"v":0.62},{"h":25.09,"v":0.698},{"h":25.21,"v":0.589},{"h":25.38,"v":0.534},{"h":25.49,"v":0.573},{"h":25.58,"v":0.994},{"h":25.71,"v":0.97},{"h":25.84,"v":0.885},{"h":25.99,"v":0.944},{"h":26.15,"v":0.916},{"h":26.41,"v":0.869},{"h":26.52,"v":0.885},{"h":26.66,"v":0.916},{"h":26.88,"v":0.919},{"h":27.03,"v":0.905},{"h":27.29,"v":0.905},{"h":27.4,"v":0.896},{"h":27.51,"v":0.903},{"h":27.65,"v":0.889},{"h":28.0,"v":0.889}
],
"o1m":[
{"h":4.16,"v":0.274},{"h":7.16,"v":0.274},{"h":7.25,"v":1},{"h":7.41,"v":1},{"h":7.5,"v":0.347},{"h":9.74,"v":0.347},{"h":9.83,"v":0},{"h":13.89,"v":0},{"h":14.0,"v":0.196},{"h":25.5,"v":0.196},{"h":25.58,"v":0.561},{"h":28.0,"v":0.561}
]
},
"spacing":23,
"bounds":"flush",
"vconcat":[
{
"width":1089,
"height":298,
"title":{"text":"ETH_USDT","anchor":"start","frame":"group","fontSize":18.3,"fontWeight":"bold","color":"black","offset":7},
"layer":[
{
"data":{"name":"heat"},
"mark":{"type":"rect","strokeWidth":0.6},
"encoding":{
"x":{"field":"a","type":"quantitative","axis":null,"scale":{"domain":[4.09,28],"nice":false,"zero":false}},
"x2":{"field":"b"},
"y":{"field":"p","type":"quantitative","scale":{"domain":[3060.4,3274.5],"nice":false,"zero":false},
"axis":{"orient":"right","title":"Price [USDT]","titleFontStyle":"italic","titleFontWeight":"normal","titleFontSize":15,"titleColor":"#444","titlePadding":6,"grid":false,"offset":-1,"tickCount":100,"labelOverlap":false,
"values":[3070,3080,3090,3100,3110,3120,3130,3140,3150,3160,3170,3180,3190,3200,3210,3220,3230,3240,3250,3260,3270],
"labelExpr":"datum.value%50==0?format(datum.value/1000,'.3f')+' k':''",
"labelFontSize":13,"labelColor":"#444","labelPadding":5,"domainColor":"#222","domainWidth":1.5,"tickColor":"#222",
"tickSize":{"condition":{"test":"datum.value%50==0","value":8},"value":4}}},
"y2":{"field":"q"},
"color":{"field":"v","type":"quantitative","scale":{"domain":[0,12,24.6,33],"range":["#000000","#ff0000","#ffff00","#ffffff"],"interpolate":"rgb"},
"legend":{"type":"gradient","orient":"none","legendX":-104,"legendY":21,"title":"Volume","titleFontStyle":"italic","titleFontWeight":"normal","titleFontSize":14.5,"titleColor":"#333","titlePadding":3,"gradientLength":248,"gradientThickness":29,"gradientStrokeColor":"black","gradientStrokeWidth":1.5,"values":[0.001,5,10,15,20,25,30],"labelExpr":"datum.value<1?'\u00a0\u00a0\u00a00':datum.value<10?'\u00a0\u00a0'+datum.value+' M':format(datum.value,'.1f')+' M'","labelFontSize":13,"labelColor":"#444","labelOffset":6}},
"stroke":{"field":"v","type":"quantitative","scale":{"domain":[0,12,24.6,33],"range":["#000000","#ff0000","#ffff00","#ffffff"],"interpolate":"rgb"},"legend":null}
}
},
{
"data":{"name":"price"},
"mark":{"type":"line","color":"#2b76ab","strokeWidth":2.2},
"encoding":{
"x":{"field":"h","type":"quantitative"},
"y":{"field":"p","type":"quantitative"}
}
}
]
},
{
"width":1089,
"height":214,
"view":{"stroke":"#eeeeee"},
"layer":[
{
"data":{"values":[{"h":5.01,"v":0.168}]},
"mark":{"type":"point","shape":"M-0.55,0.28 L0.55,0.28 L0.95,0.8 Q1,0.9 0.85,0.9 L-0.85,0.9 Q-1,0.9 -0.95,0.8 Z","filled":true,"color":"#e5eef2","opacity":1,"size":5776},
"encoding":{
"x":{"field":"h","type":"quantitative","scale":{"domain":[4.09,28],"nice":false,"zero":false},
"axis":{"title":"Date (UTC)","titleFontStyle":"italic","titleFontWeight":"normal","titleFontSize":15,"titleColor":"#444","titlePadding":10,"tickCount":10,"values":[8,12,16,20,24,28],"labelExpr":"datum.value==24?'1/05':(datum.value%24)+'h'","labelFontSize":13,"labelColor":"#444","labelPadding":5,"labelFlush":false,"domainColor":"#111","tickColor":"#333","tickSize":8,"tickWidth":1.5,"gridColor":"#eeeeee","gridWidth":1.5}},
"y":{"field":"v","type":"quantitative","scale":{"domain":[0,1],"nice":false},
"axis":{"title":"Normalized CVD [arb. u.]","titleFontStyle":"italic","titleFontWeight":"normal","titleFontSize":15,"titleColor":"#444","titlePadding":7,"tickCount":100,"labelOverlap":false,
"values":[0,0.04,0.08,0.12,0.16,0.2,0.24,0.28,0.32,0.36,0.4,0.44,0.48,0.52,0.56,0.6,0.64,0.68,0.72,0.76,0.8,0.84,0.88,0.92,0.96,1],
"labelExpr":"datum.value==0?'0':datum.value==1?'1.000':abs(datum.value*5-round(datum.value*5))<0.001?format(datum.value*1000,'.2f')+' m':''",
"labelFontSize":13,"labelColor":"#444","labelPadding":5,"domainColor":"#111","tickColor":"#222",
"tickSize":{"condition":{"test":"abs(datum.value*5-round(datum.value*5))<0.001","value":7},"value":4},
"gridColor":"#eeeeee","gridWidth":1.5,
"gridOpacity":{"condition":{"test":"abs(datum.value*5-round(datum.value*5))<0.001","value":1},"value":0}}}
}
},
{
"data":{"values":[{"h":5.01,"v":0.168}]},
"mark":{"type":"point","shape":"M-0.26,-0.92 L0.26,-0.92 L0.26,-0.3 L1,0.75 Q1.05,0.95 0.85,0.95 L-0.85,0.95 Q-1.05,0.95 -1,0.75 L-0.26,-0.3 Z","filled":false,"color":"#e6e6e6","strokeWidth":2,"opacity":1,"size":5776},
"encoding":{"x":{"field":"h","type":"quantitative"},"y":{"field":"v","type":"quantitative"}}
},
{
"data":{"values":[{"h":6.13,"v":0.196,"text":"MATERIAL"},{"h":6.13,"v":0.028,"text":"INDICATORS"}]},
"mark":{"type":"text","fontWeight":"bold","fontSize":27,"color":"#dedede","align":"left","baseline":"alphabetic"},
"encoding":{"x":{"field":"h","type":"quantitative"},"y":{"field":"v","type":"quantitative"},"text":{"field":"text"}}
},
{"data":{"name":"allOrders"},"mark":{"type":"line","strokeWidth":2.2},"encoding":{"x":{"field":"h","type":"quantitative"},"y":{"field":"v","type":"quantitative"},
"color":{"datum":"all orders","type":"nominal","scale":{"domain":["all orders","$100 < i < $1k","$1k < i < $10k","$10k < i < $100k","$100k < i < $1M","$1M < i < $10M"],"range":["#1f77b4","#ff7f0e","#2ca02c","#d62728","#9467bd","#8c564b"]},
"legend":{"orient":"none","legendX":-94,"legendY":290,"direction":"horizontal","columns":6,"title":null,"symbolType":"stroke","symbolSize":529,"symbolStrokeWidth":2.5,"labelFontSize":12,"labelColor":"#444","labelLimit":120,"columnPadding":0,"padding":11,"strokeColor":"#eeeeee","fillColor":"white"}}}},
{"data":{"name":"o100"},"mark":{"type":"line","strokeWidth":2.2},"encoding":{"x":{"field":"h","type":"quantitative"},"y":{"field":"v","type":"quantitative"},"color":{"datum":"$100 < i < $1k","type":"nominal"}}},
{"data":{"name":"o1k"},"mark":{"type":"line","strokeWidth":2.2},"encoding":{"x":{"field":"h","type":"quantitative"},"y":{"field":"v","type":"quantitative"},"color":{"datum":"$1k < i < $10k","type":"nominal"}}},
{"data":{"name":"o10k"},"mark":{"type":"line","strokeWidth":2.2},"encoding":{"x":{"field":"h","type":"quantitative"},"y":{"field":"v","type":"quantitative"},"color":{"datum":"$10k < i < $100k","type":"nominal"}}},
{"data":{"name":"o100k"},"mark":{"type":"line","strokeWidth":2.2},"encoding":{"x":{"field":"h","type":"quantitative"},"y":{"field":"v","type":"quantitative"},"color":{"datum":"$100k < i < $1M","type":"nominal"}}},
{"data":{"name":"o1m"},"mark":{"type":"line","strokeWidth":2.4},"encoding":{"x":{"field":"h","type":"quantitative"},"y":{"field":"v","type":"quantitative"},"color":{"datum":"$1M < i < $10M","type":"nominal"}}},
{
"data":{"values":[{"h":19.06,"v":0.9,"text":"곰지네 트레이딩 CVD"}]},
"mark":{"type":"text","font":"Noto Sans CJK KR","fontSize":27,"color":"black"},
"encoding":{"x":{"field":"h","type":"quantitative"},"y":{"field":"v","type":"quantitative"},"text":{"field":"text"}}
},
{
"data":{"values":[{"h":18.67,"v":0.766,"text":"Powered By Material Indictors"},{"h":25.19,"v":-0.327,"text":"https://t.me/oddstrading2"}]},
"mark":{"type":"text","font":"Noto Sans","fontSize":25.4,"color":"black"},
"encoding":{"x":{"field":"h","type":"quantitative"},"y":{"field":"v","type":"quantitative"},"text":{"field":"text"}}
}
]
}
]
}
